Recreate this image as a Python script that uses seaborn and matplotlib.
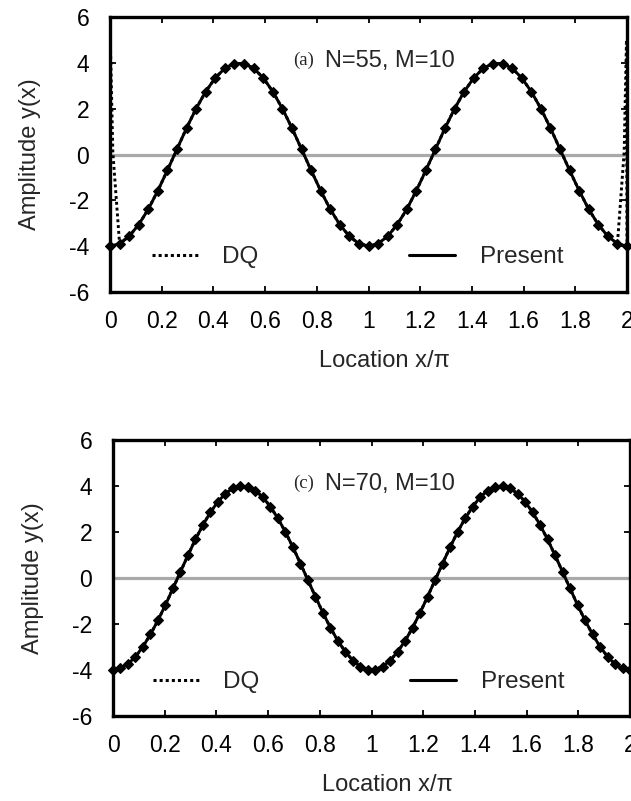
import matplotlib
matplotlib.use("Agg")
import matplotlib.pyplot as plt
import seaborn as sns
import pandas as pd
from matplotlib.lines import Line2D

# ---- panel (a): N=55, M=10 -------------------------------------------------
x_a = [0.000, 0.037, 0.074, 0.111, 0.148, 0.185, 0.222, 0.259, 0.296, 0.333,
       0.370, 0.407, 0.444, 0.481, 0.519, 0.556, 0.593, 0.630, 0.667, 0.704,
       0.741, 0.778, 0.815, 0.852, 0.889, 0.926, 0.963, 1.000, 1.037, 1.074,
       1.111, 1.148, 1.185, 1.222, 1.259, 1.296, 1.333, 1.370, 1.407, 1.444,
       1.481, 1.519, 1.556, 1.593, 1.630, 1.667, 1.704, 1.741, 1.778, 1.815,
       1.852, 1.889, 1.926, 1.963, 2.000]
present_a = [-4.00, -3.89, -3.57, -3.06, -2.39, -1.58, -0.69, 0.23, 1.15, 2.00,
             2.74, 3.34, 3.76, 3.97, 3.97, 3.76, 3.34, 2.74, 2.00, 1.15,
             0.23, -0.69, -1.58, -2.39, -3.06, -3.57, -3.89, -4.00, -3.89, -3.57,
             -3.06, -2.39, -1.58, -0.69, 0.23, 1.15, 2.00, 2.74, 3.34, 3.76,
             3.97, 3.97, 3.76, 3.34, 2.74, 2.00, 1.15, 0.23, -0.69, -1.58,
             -2.39, -3.06, -3.57, -3.89, -4.00]
# DQ solution: follows the present one except for the spurious boundary spikes
dq_a_left_x = [0.002, 0.011]
dq_a_left_y = [4.60, 0.10]
dq_a_right_x = [1.989, 1.998]
dq_a_right_y = [0.10, 5.00]

# ---- panel (c): N=70, M=10 -------------------------------------------------
x_c = [0.000, 0.029, 0.058, 0.087, 0.116, 0.145, 0.174, 0.203, 0.232, 0.261,
       0.290, 0.319, 0.348, 0.377, 0.406, 0.435, 0.464, 0.493, 0.522, 0.551,
       0.580, 0.609, 0.638, 0.667, 0.696, 0.725, 0.754, 0.783, 0.812, 0.841,
       0.870, 0.899, 0.928, 0.957, 0.986, 1.014, 1.043, 1.072, 1.101, 1.130,
       1.159, 1.188, 1.217, 1.246, 1.275, 1.304, 1.333, 1.362, 1.391, 1.420,
       1.449, 1.478, 1.507, 1.536, 1.565, 1.594, 1.623, 1.652, 1.681, 1.710,
       1.739, 1.768, 1.797, 1.826, 1.855, 1.884, 1.913, 1.942, 1.971, 2.000]
present_c = [-4.00, -3.93, -3.74, -3.42, -2.98, -2.45, -1.84, -1.17, -0.45, 0.27,
             0.99, 1.68, 2.31, 2.86, 3.32, 3.67, 3.90, 4.00, 3.96, 3.80,
             3.51, 3.10, 2.59, 2.00, 1.34, 0.63, -0.09, -0.81, -1.51, -2.16,
             -2.73, -3.21, -3.59, -3.85, -3.98, -3.98, -3.85, -3.59, -3.21, -2.73,
             -2.16, -1.51, -0.81, -0.09, 0.63, 1.34, 2.00, 2.59, 3.10, 3.51,
             3.80, 3.96, 4.00, 3.90, 3.67, 3.32, 2.86, 2.31, 1.68, 0.99,
             0.27, -0.45, -1.17, -1.84, -2.45, -2.98, -3.42, -3.74, -3.93, -4.00]
dq_c = [-4.00, -3.93, -3.74, -3.42, -2.98, -2.45, -1.84, -1.17, -0.45, 0.27,
        0.99, 1.68, 2.31, 2.86, 3.32, 3.67, 3.90, 4.00, 3.96, 3.80,
        3.51, 3.10, 2.59, 2.00, 1.34, 0.63, -0.09, -0.81, -1.51, -2.16,
        -2.73, -3.21, -3.59, -3.85, -3.98, -3.98, -3.85, -3.59, -3.21, -2.73,
        -2.16, -1.51, -0.81, -0.09, 0.63, 1.34, 2.00, 2.59, 3.10, 3.51,
        3.80, 3.96, 4.00, 3.90, 3.67, 3.32, 2.86, 2.31, 1.68, 0.99,
        0.27, -0.45, -1.17, -1.84, -2.45, -2.98, -3.42, -3.74, -3.93, -4.00]

x_ticks = [0, 0.2, 0.4, 0.6, 0.8, 1.0, 1.2, 1.4, 1.6, 1.8, 2.0]
x_tick_labels = ["0", "0.2", "0.4", "0.6", "0.8", "1", "1.2", "1.4", "1.6", "1.8", "2"]
y_ticks = [-6, -4, -2, 0, 2, 4, 6]
y_tick_labels = ["-6", "-4", "-2", "0", "2", "4", "6"]
series_names = ["DQ", "Present"]

sns.set_theme(style="ticks")
plt.rcParams["font.family"] = ["Liberation Sans", "DejaVu Sans"]
plt.rcParams["axes.linewidth"] = 2.2
plt.rcParams["axes.edgecolor"] = "black"

W, H = 631, 801
fig = plt.figure(figsize=(W / 100, H / 100), dpi=100)
ax_a = fig.add_axes([110 / W, 1 - 292 / H, (627 - 110) / W, (292 - 17) / H])
ax_c = fig.add_axes([113 / W, 1 - 716 / H, (630 - 113) / W, (716 - 440) / H])

DOT = (0, (1, 1))


def draw_panel(ax, x, present, dq_x, dq_y, tag, params, text_x, legend_x, legend_y):
    ax.axhline(0, color="#a9a9a9", lw=2.3, zorder=1)
    dq_df = pd.DataFrame({"x": dq_x, "y": dq_y})
    pr_df = pd.DataFrame({"x": x, "y": present})
    sns.lineplot(data=dq_df, x="x", y="y", ax=ax, color="black", lw=2.1,
                 linestyle=DOT, estimator=None, sort=False, legend=False,
                 zorder=2)
    sns.lineplot(data=pr_df, x="x", y="y", ax=ax, color="black", lw=2.1,
                 marker="D", markersize=4.8, markeredgewidth=0.8,
                 markeredgecolor="black", estimator=None, sort=False,
                 legend=False, zorder=3, clip_on=False)

    ax.set_xlim(0, 2)
    ax.set_ylim(-6, 6)
    ax.set_xticks(x_ticks)
    ax.set_xticklabels(x_tick_labels)
    ax.set_yticks(y_ticks)
    ax.set_yticklabels(y_tick_labels)
    ax.tick_params(direction="in", length=4, width=1.3, top=True, right=True,
                   labelsize=16.5, colors="black")
    ax.tick_params(axis="x", pad=13)
    ax.tick_params(axis="y", pad=15)
    ax.set_xlabel("Location x/\u03c0", fontsize=17, labelpad=12, x=0.53)
    ax.set_ylabel("Amplitude y(x)", fontsize=17, labelpad=20)
    for s in ax.spines.values():
        s.set_linewidth(2.4)
        s.set_zorder(5)

    ax.text(text_x, 4.1, tag, family=["Liberation Serif", "DejaVu Serif"],
            fontsize=13.5, va="center", ha="left")
    ax.text(text_x + 0.125, 4.1, params, fontsize=17, va="center", ha="left")

    handles = [Line2D([], [], color="black", lw=2.2, linestyle=DOT),
               Line2D([], [], color="black", lw=2.2)]
    ax.legend(handles, series_names, ncol=2, loc="center left",
              bbox_to_anchor=(legend_x, legend_y), frameon=False,
              fontsize=17.5, handlelength=1.9, handletextpad=1.0,
              columnspacing=6.2, borderpad=0, borderaxespad=0)


dq_a_x = x_a[:1] + dq_a_left_x + x_a[1:-1] + dq_a_right_x + x_a[-1:]
dq_a_y = present_a[:1] + dq_a_left_y + present_a[1:-1] + dq_a_right_y + present_a[-1:]

draw_panel(ax_a, x_a, present_a, dq_a_x, dq_a_y, "(a)", "N=55, M=10",
           0.708, 0.081, 0.127)
draw_panel(ax_c, x_c, present_c, x_c, dq_c, "(c)", "N=70, M=10",
           0.696, 0.077, 0.123)

fig.savefig("out.png", dpi=100)
